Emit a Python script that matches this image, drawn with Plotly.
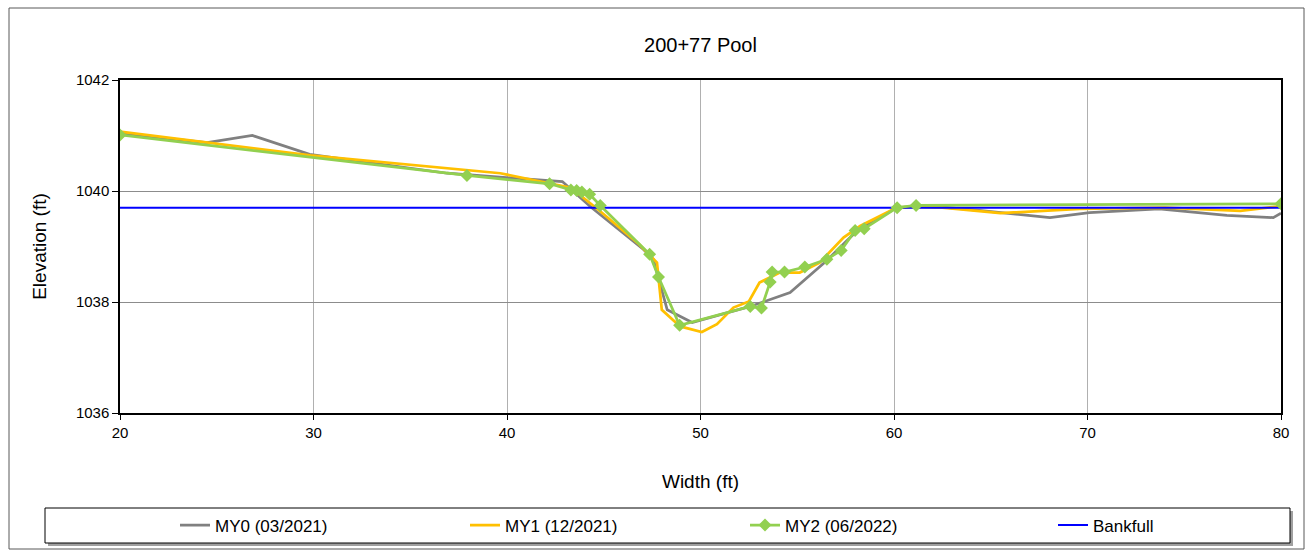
import plotly.graph_objects as go

# ---- data ----
my0_x = [20.0, 24.5, 26.84, 29.8, 36.9, 42.86, 44.3, 47.04, 47.56, 48.28, 49.57, 52.57, 54.63, 56.5, 58.08, 60.14, 61.1, 62.5, 64.4, 68.06, 70.1, 73.7, 77.2, 79.6, 80.0]
my0_y = [1041.04, 1040.87, 1041.0, 1040.66, 1040.32, 1040.17, 1039.72, 1038.95, 1038.77, 1037.86, 1037.63, 1037.92, 1038.17, 1038.74, 1039.28, 1039.70, 1039.72, 1039.71, 1039.65, 1039.52, 1039.61, 1039.68, 1039.56, 1039.52, 1039.6]

my1_x = [20.0, 29.84, 39.65, 43.3, 44.8, 46.83, 47.75, 48.0, 48.95, 50.07, 50.85, 51.7, 52.5, 53.05, 54.1, 55.13, 56.16, 57.39, 58.25, 60.14, 61.1, 62.5, 65.5, 69.6, 74.0, 77.9, 80.0]
my1_y = [1041.07, 1040.64, 1040.32, 1040.06, 1039.64, 1039.04, 1038.71, 1037.86, 1037.56, 1037.46, 1037.6, 1037.9, 1038.01, 1038.35, 1038.53, 1038.53, 1038.71, 1039.16, 1039.37, 1039.70, 1039.72, 1039.70, 1039.6, 1039.68, 1039.7, 1039.64, 1039.73]

my2_x = [20.0, 37.93, 42.2, 43.3, 43.6, 43.87, 44.27, 44.82, 47.37, 47.83, 48.92, 52.57, 53.15, 53.6, 53.7, 54.34, 55.39, 56.53, 57.27, 57.99, 58.46, 60.16, 61.14, 80.0]
my2_y = [1041.01, 1040.28, 1040.13, 1040.02, 1040.01, 1039.98, 1039.94, 1039.74, 1038.86, 1038.45, 1037.58, 1037.92, 1037.89, 1038.36, 1038.54, 1038.54, 1038.63, 1038.77, 1038.93, 1039.29, 1039.32, 1039.70, 1039.74, 1039.77]

bank_x = [20.0, 80.0]
bank_y = [1039.7, 1039.7]

x_ticks = [20, 30, 40, 50, 60, 70, 80]
y_ticks = [1036, 1038, 1040, 1042]

FONT = "Liberation Sans"

fig = go.Figure()
fig.add_trace(go.Scatter(x=my0_x, y=my0_y, mode="lines", name="MY0 (03/2021)",
                         line=dict(color="#808080", width=2.75), legendrank=1, legendwidth=245))
fig.add_trace(go.Scatter(x=my1_x, y=my1_y, mode="lines", name="MY1 (12/2021)",
                         line=dict(color="#FFC000", width=2.75), legendrank=2, legendwidth=235))
fig.add_trace(go.Scatter(x=bank_x, y=bank_y, mode="lines", name="Bankfull",
                         line=dict(color="#0000FF", width=2), legendrank=4, legendwidth=90))
fig.add_trace(go.Scatter(x=my2_x, y=my2_y, mode="lines+markers", name="MY2 (06/2022)",
                         line=dict(color="#92D050", width=2.75),
                         marker=dict(symbol="diamond", size=10, color="#92D050"),
                         legendrank=3, legendwidth=263))

W0, H0 = 1161.0, 333.0
L, T = 120, 80
def px(xp):
    return (xp - L) / W0
def py(yp):
    return (T + H0 - yp) / H0

shapes = [
    dict(type="rect", xref="paper", yref="paper", x0=px(9), x1=px(1304), y0=py(549), y1=py(8),
         line=dict(color="#595959", width=1), fillcolor="rgba(0,0,0,0)", layer="below"),
    dict(type="rect", xref="paper", yref="paper", x0=px(48), x1=px(1293), y0=py(546), y1=py(511),
         line=dict(width=0), fillcolor="#A0A0A0", layer="below"),
    dict(type="rect", xref="paper", yref="paper", x0=px(45), x1=px(1290), y0=py(543), y1=py(508),
         line=dict(color="#000000", width=1), fillcolor="#FFFFFF", layer="below"),
]

fig.update_layout(
    width=1306, height=550,
    margin=dict(l=L, r=1306 - L - int(W0), t=T, b=550 - T - int(H0), autoexpand=False),
    paper_bgcolor="white", plot_bgcolor="white",
    font=dict(family=FONT, size=14, color="#000000"),
    title=dict(text="200+77 Pool", x=0.5, xref="paper", xanchor="center",
               y=1 - 45 / 550, yanchor="middle", font=dict(size=20)),
    showlegend=True,
    legend=dict(orientation="h", x=px(175), xanchor="left", y=py(525.5), yanchor="middle",
                bgcolor="rgba(0,0,0,0)", borderwidth=0, font=dict(size=17),
                traceorder="normal"),
    shapes=shapes,
)

fig.update_xaxes(range=[20, 80], tickvals=x_ticks, ticktext=[str(v) for v in x_ticks],
                 showgrid=True, gridcolor="#B0B0B0", gridwidth=1,
                 showline=True, linecolor="#000000", linewidth=1.5, mirror=True,
                 ticks="outside", ticklen=5, tickcolor="#000000",
                 zeroline=False, tickfont=dict(size=15),
                 title=dict(text="Width (ft)", standoff=35, font=dict(size=19)))
fig.update_yaxes(range=[1036, 1042], tickvals=y_ticks, ticktext=[str(v) for v in y_ticks],
                 showgrid=True, gridcolor="#8C8C8C", gridwidth=1,
                 showline=True, linecolor="#000000", linewidth=1.5, mirror=True,
                 ticks="outside", ticklen=6, tickcolor="#000000",
                 zeroline=False, tickfont=dict(size=15),
                 title=dict(text="Elevation (ft)", standoff=24, font=dict(size=19)))

fig.write_html("out.html")
